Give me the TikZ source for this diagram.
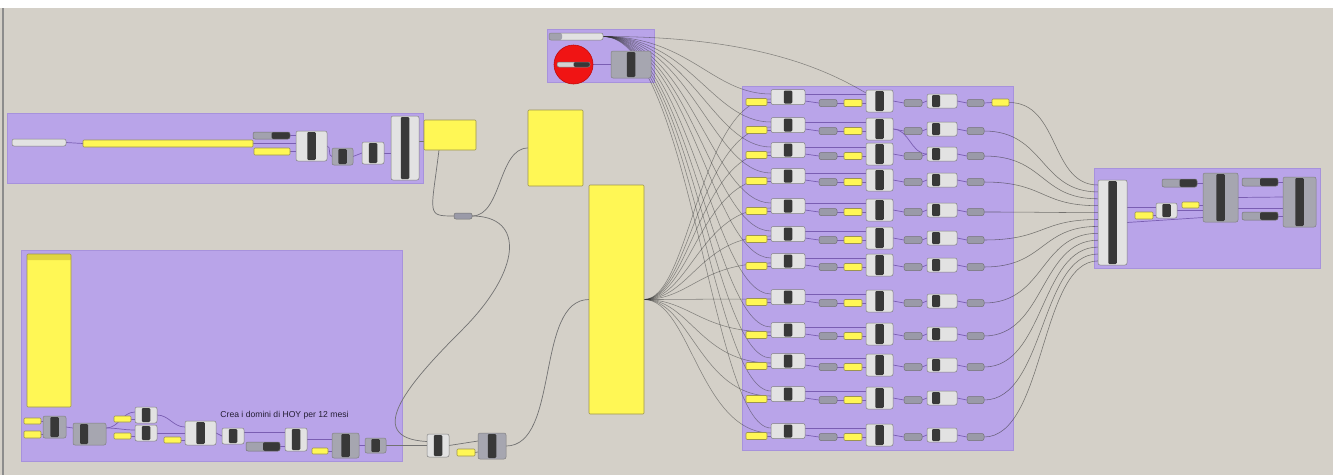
\documentclass[tikz,border=0pt]{standalone}
\usepackage{fontspec}
\setmainfont{Liberation Sans}
\usetikzlibrary{calc}
\pgfdeclarelayer{groups}
\pgfdeclarelayer{wires}
\pgfsetlayers{groups,wires,main}
\definecolor{bgc}{HTML}{D4D0C8}
\definecolor{grp}{HTML}{B9A4E9}
\definecolor{grpb}{HTML}{A792DC}
\definecolor{yelc}{HTML}{FFF755}
\definecolor{yelb}{HTML}{9C9450}
\definecolor{yelh}{HTML}{E0D540}
\definecolor{lite}{HTML}{E2E2E2}
\definecolor{gry}{HTML}{A6A6B0}
\definecolor{dbar}{HTML}{383838}
\definecolor{prmc}{HTML}{9A9AA8}
\definecolor{slg}{HTML}{A2A2AE}
\definecolor{wirep}{HTML}{7A5EB2}
\definecolor{wireg}{HTML}{727272}
\definecolor{redc}{HTML}{F01414}
\definecolor{redb}{HTML}{C00A0A}
\definecolor{txtc}{HTML}{241E34}
\definecolor{edgec}{HTML}{8C8C8C}
\newcommand\gbox[6]{%
  \pgfmathsetmacro\gbw{(#5)-(#3)}\pgfmathsetmacro\gbh{(#6)-(#4)}%
  \pgfmathsetmacro\gbx{((#3)+(#5))/2}\pgfmathsetmacro\gby{((#4)+(#6))/2}%
  \node[#1, minimum width=\gbw pt, minimum height=\gbh pt, inner sep=0pt, outer sep=0pt] (#2) at (\gbx,\gby) {};}
\begin{document}
\begin{tikzpicture}[x=1pt,y=-1pt,
  group/.style={fill=grp, draw=grpb, line width=0.8pt},
  ybox/.style={draw=yelb, fill=yelc, rounded corners=1pt, line width=0.6pt},
  yhead/.style={ybox, path picture={\fill[yelh] (path picture bounding box.north west) rectangle ([yshift=-6pt]path picture bounding box.north east);}},
  lcomp/.style={draw=black!50, fill=lite, rounded corners=2pt, line width=0.5pt,
    path picture={\fill[dbar,rounded corners=1.2pt] ([xshift=-4.25pt,yshift=-1pt]path picture bounding box.north) rectangle ([xshift=4.25pt,yshift=1pt]path picture bounding box.south);}},
  gcomp/.style={lcomp, fill=gry},
  lcompL/.style={draw=black!50, fill=lite, rounded corners=2pt, line width=0.5pt,
    path picture={\fill[dbar,rounded corners=1.2pt] ([xshift=5pt,yshift=-1pt]path picture bounding box.north west) rectangle ([xshift=13pt,yshift=1pt]path picture bounding box.south west);}},
  gcompL/.style={lcompL, fill=gry, path picture={\fill[dbar,rounded corners=1.2pt] ([xshift=7pt,yshift=-1pt]path picture bounding box.north west) rectangle ([xshift=15pt,yshift=1pt]path picture bounding box.south west);}},
  pbox/.style={draw=black!55, fill=prmc, rounded corners=2pt, line width=0.5pt},
  dsl/.style={draw=black!55, fill=slg, rounded corners=2pt, line width=0.5pt,
    path picture={\fill[dbar] (path picture bounding box.north) rectangle (path picture bounding box.south east);}},
  dslr/.style={dsl, fill=lite!85!gray},
  lsl/.style={draw=black!50, fill=lite, rounded corners=2pt, line width=0.5pt},
  lslg/.style={lsl, path picture={\fill[slg] (path picture bounding box.north west) rectangle ([xshift=13pt]path picture bounding box.south west);}},
  pw/.style={draw=wirep, line width=0.7pt},
  gw/.style={draw=wireg, line width=0.7pt},
  fw/.style={draw=black!80, line width=0.55pt, draw opacity=0.5}
]
\useasboundingbox (0,0) rectangle (1333,475);
\begin{pgfonlayer}{groups}
\fill[white] (0,0) rectangle (1333,8);
\fill[bgc] (0,8) rectangle (1333,475);
\draw[edgec, line width=1.5pt] (3,8) -- (3,475);
\draw[group] (7,113) rectangle (423,183);
\draw[group] (21,250) rectangle (402,461);
\draw[group] (547,29) rectangle (654,82);
\draw[group] (742,86) rectangle (1013,450);
\draw[group] (1094,168) rectangle (1320,268);
\end{pgfonlayer}

% ---------- group 1 ----------
\gbox{lsl}{g1s}{12}{139}{66}{146}
\gbox{ybox}{g1y}{83}{140}{253}{147}
\gbox{dsl}{g1d}{253}{132}{290}{139}
\gbox{ybox}{g1y2}{254}{148}{290}{155}
\gbox{lcomp}{g1c1}{296}{131}{327}{161}
\gbox{gcomp}{g1c2}{332}{148}{353}{165}
\gbox{lcomp}{g1c3}{362}{142}{384}{164}
\gbox{lcomp}{g1c4}{391}{116}{419}{180}
\gbox{ybox}{g1o}{424}{120}{476}{150}

% ---------- middle ----------
\gbox{pbox}{mp}{454}{213}{472}{219}
\gbox{ybox}{my1}{528}{110}{583}{186}
\gbox{ybox}{my2}{589}{185}{644}{414}
\gbox{lcomp}{bc1}{427}{434}{449}{457}
\gbox{ybox}{by}{457}{449}{475}{456}
\gbox{gcomp}{bc2}{478}{433}{506}{459}

% ---------- group 2 ----------
\gbox{yhead}{g2p}{27}{254}{71}{407}
\gbox{ybox}{g2y1}{24}{418}{41}{424}
\gbox{ybox}{g2y2}{24}{431}{41}{438}
\gbox{gcomp}{g2c1}{43}{416}{66}{438}
\gbox{gcompL}{g2c2}{73}{423}{106}{445}
\gbox{ybox}{g2y3}{114}{416}{131}{422}
\gbox{ybox}{g2y4}{114}{433}{131}{439}
\gbox{lcomp}{g2c3}{135}{407}{157}{423}
\gbox{lcomp}{g2c4}{135}{425}{157}{441}
\gbox{ybox}{g2y5}{164}{437}{181}{443}
\gbox{lcomp}{g2c5}{185}{421}{216}{445}
\gbox{lcomp}{g2c6}{222}{428}{244}{444}
\gbox{dsl}{g2s}{246}{442}{280}{451}
\gbox{lcomp}{g2c7}{285}{428}{307}{451}
\gbox{ybox}{g2y6}{312}{448}{328}{454}
\gbox{gcomp}{g2c8}{332}{433}{359}{458}
\gbox{gcomp}{g2c9}{365}{438}{386}{453}
\node[font=\fontsize{8.6}{10}\selectfont, text=txtc, inner sep=0pt] (lbl) at (284.5,415) {Crea i domini di HOY per 12 mesi};

% ---------- top group ----------
\gbox{lslg}{ts}{549}{33}{603}{40}
\node[circle, fill=redc, draw=redb, line width=0.6pt, minimum size=39pt, inner sep=0pt] (rc) at (573.5,64.5) {};
\gbox{dslr}{rs}{557}{62}{590}{67}
\gbox{gcomp}{tc}{611}{51}{651}{78}

% ---------- right group ----------
\gbox{lcomp}{T}{1098}{180}{1127}{265}
\gbox{ybox}{ry1}{1135}{212}{1153}{219}
\gbox{lcomp}{rc1}{1156}{203}{1177}{218}
\gbox{dsl}{rs1}{1162}{179}{1197}{187}
\gbox{ybox}{ry2}{1182}{202}{1199}{208}
\gbox{gcomp}{rc2}{1203}{173}{1238}{222}
\gbox{dsl}{rs2}{1242}{178}{1278}{186}
\gbox{dsl}{rs3}{1242}{212}{1278}{220}
\gbox{gcomp}{rc3}{1283}{177}{1316}{227}

% ---------- rows of big group ----------
\foreach \c [count=\i] in {97,125,150,176,206,234,261,297,330,361,394,431} {
  \gbox{ybox}{yA\i}{746}{\c+1.5}{767}{\c+8.5}
  \gbox{lcomp}{cA\i}{771}{\c-7.5}{805}{\c+7.5}
  \gbox{pbox}{gB\i}{819}{\c+2.5}{837}{\c+9.5}
  \gbox{ybox}{yC\i}{844}{\c+2.5}{862}{\c+9.5}
  \gbox{lcomp}{cC\i}{866}{\c-7}{893}{\c+15}
  \gbox{pbox}{gD\i}{904}{\c+2.5}{922}{\c+9.5}
  \gbox{lcompL}{cD\i}{927}{\c-3}{957}{\c+11}
  \gbox{pbox}{gE\i}{967}{\c+2.5}{984}{\c+9.5}
  \begin{pgfonlayer}{wires}
    \draw[pw] (yA\i.east) -- ($(cA\i.west)+(0,5)$);
    \draw[pw] ($(cA\i.east)+(0,-3)$) -- ($(cC\i.west)+(0,-7)$);
    \draw[pw] ($(cA\i.east)+(0,4)$) -- (gB\i.west);
    \draw[pw] (gB\i.east) -- (yC\i.west);
    \draw[pw] (yC\i.east) -- ($(cC\i.west)+(0,2)$);
    \draw[pw] (cC\i.east) -- (gD\i.west);
    \draw[pw] (gD\i.east) -- (cD\i.west);
    \draw[pw] (cD\i.east) -- (gE\i.west);
    \draw[fw] (ts.east) .. controls (690,36.5) and (712,\c-3) .. ($(cA\i.west)+(0,-3)$);
    \draw[fw] (my2.east) .. controls (690,299.5) and (700,\c+2) .. ($(cA\i.west)+(0,2)$);
    \pgfmathsetmacro\dy{5+(\i-1)*6.9}
    \pgfmathsetmacro\yi{180+\dy}
    \ifnum\i>1
      \draw[fw, draw opacity=0.6] (gE\i.east) .. controls (1045,\c+6) and (1040,\yi) .. ($(T.north west)+(0,\dy)$);
    \fi
  \end{pgfonlayer}
}
\gbox{ybox}{yF}{992}{99}{1009}{106}

% ---------- wires ----------
\begin{pgfonlayer}{wires}
% group 1
\draw[pw] (g1s.east) -- (g1y.west);
\draw[pw] (g1d.east) -- ($(g1c1.west)+(0,-10.5)$);
\draw[pw] (g1y.east) -- ($(g1c1.west)+(0,-2.5)$);
\draw[pw] (g1y2.east) -- ($(g1c1.west)+(0,5.5)$);
\draw[pw] (g1c1.east) to[out=0,in=180] (g1c2.west);
\draw[pw] (g1c2.east) to[out=0,in=180] (g1c3.west);
\draw[pw] (g1c3.east) -- ($(g1c4.west)+(0,5)$);
\draw[gw] ($(g1c4.east)+(0,-7)$) -- ($(g1o.west)+(0,6)$);
% middle
\draw[gw] ($(g1o.south west)+(15,0)$) .. controls ($(g1o.south west)+(7,65)$) and ($(mp.west)+(-28,0)$) .. (mp.west);
\draw[gw] (mp.east) .. controls ($(mp.east)+(30,0)$) and ($(my1.west)+(-30,0)$) .. (my1.west);
\draw[gw] (mp.east) .. controls (525,216) and (522,270) .. (462,330) .. controls (412,380) and (360,438) .. ($(bc1.west)+(0,-4)$);
\draw[gw] (g2c9.east) -- (bc1.west);
\draw[gw] (bc1.east) -- ($(bc2.west)+(0,-5)$);
\draw[gw] (by.east) -- ($(bc2.west)+(0,6)$);
\draw[gw] (bc2.east) .. controls (560,446) and (535,299.5) .. (my2.west);
% group 2
\draw[pw] (g2y1.east) -- ($(g2c1.west)+(0,-6)$);
\draw[pw] (g2y2.east) -- ($(g2c1.west)+(0,7.5)$);
\draw[pw] (g2c1.east) -- ($(g2c2.west)+(0,-6)$);
\draw[pw] ($(g2c2.east)+(0,-6)$) to[out=0,in=180] ($(g2c3.west)+(0,-3)$);
\draw[pw] ($(g2c2.east)+(0,-6)$) to[out=0,in=180] ($(g2c4.west)+(0,-3)$);
\draw[pw] (g2y3.east) -- ($(g2c3.west)+(0,4)$);
\draw[pw] (g2y4.east) -- ($(g2c4.west)+(0,3)$);
\draw[pw] (g2c3.east) to[out=0,in=180] ($(g2c5.west)+(0,-6)$);
\draw[pw] (g2c4.east) -- (g2c5.west);
\draw[pw] (g2y5.east) -- ($(g2c5.west)+(0,7)$);
\draw[pw] (g2c5.east) -- (g2c6.west);
\draw[pw] ($(g2c6.east)+(0,-4)$) -- ($(g2c7.west)+(0,-7.5)$);
\draw[pw] (g2s.east) -- ($(g2c7.west)+(0,7)$);
\draw[pw] (g2c7.east) -- ($(g2c8.west)+(0,-6)$);
\draw[pw] (g2y6.east) -- ($(g2c8.west)+(0,5.5)$);
\draw[pw] (g2c8.east) -- (g2c9.west);
% top group
\draw[pw] (rs.east) -- (tc.west);
\draw[fw] (ts.east) .. controls (760,36) and (830,72) .. ($(cC1.west)+(0,-8)$);
% rows extras
\draw[pw] (cC2.east) .. controls +(16,0) and +(-16,0) .. (cD3.west);
\draw[pw] (gE1.east) -- (yF.west);
\draw[fw, draw opacity=0.6] (yF.east) .. controls (1060,102.5) and (1050,185) .. ($(T.north west)+(0,5)$);
% right group
\draw[pw] ($(T.east)+(0,-15.5)$) -- ($(rc1.west)+(0,-3.5)$);
\draw[pw] (ry1.east) -- ($(rc1.west)+(0,5)$);
\draw[pw] (T.east) -- ($(rc2.west)+(0,20)$);
\draw[pw] (rc1.east) -- ($(rc2.west)+(0,13)$);
\draw[pw] (rs1.east) -- ($(rc2.west)+(0,-14.5)$);
\draw[pw] (ry2.east) -- ($(rc2.west)+(0,7.5)$);
\draw[pw] ($(rc2.east)+(0,10.5)$) -- ($(rc3.west)+(0,6)$);
\draw[pw] (rc2.east) -- ($(rc3.west)+(0,-5)$);
\draw[pw] (rs2.east) -- ($(rc3.west)+(0,-20)$);
\draw[pw] (rs3.east) -- ($(rc3.west)+(0,14)$);
\end{pgfonlayer}
\end{tikzpicture}
\end{document}
